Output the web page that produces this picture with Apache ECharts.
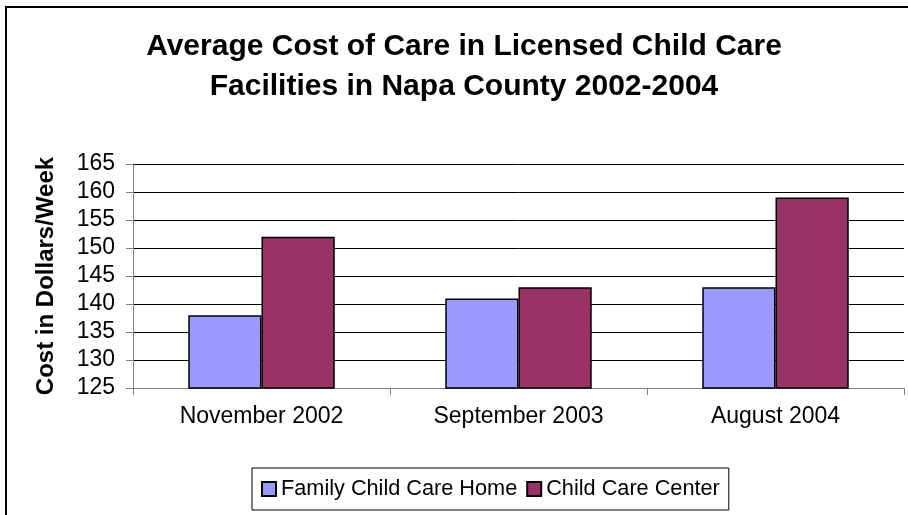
<!DOCTYPE html>
<html>
<head>
<meta charset="utf-8">
<script src="https://cdn.jsdelivr.net/npm/echarts@6/dist/echarts.min.js"></script>
<style>
html,body{margin:0;padding:0;background:#fff;}
#chart{width:908px;height:515px;}
</style>
</head>
<body>
<div id="chart"></div>
<script>
const categories = ['November 2002', 'September 2003', 'August 2004'];
const familyChildCareHome = [138, 141, 143];
const childCareCenter = [152, 143, 159];
const seriesNames = ['Family Child Care Home', 'Child Care Center'];
const titleText = 'Average Cost of Care in Licensed Child Care\nFacilities in Napa County 2002-2004';
const yAxisTitle = 'Cost in Dollars/Week';

const FONT = 'Liberation Sans, Arial, sans-serif';
const chart = echarts.init(document.getElementById('chart'), null, {renderer: 'canvas'});
chart.setOption({
  backgroundColor: '#ffffff',
  animation: false,
  graphic: [{
    type: 'rect',
    shape: {x: 6, y: 7, width: 1200, height: 1200},
    style: {fill: 'none', stroke: '#000', lineWidth: 2},
    z: 100, silent: true
  }],
  title: {
    text: titleText,
    left: 464, top: 27, padding: 0,
    textAlign: 'center',
    textStyle: {fontFamily: FONT, fontSize: 30, fontWeight: 'bold', color: '#000', lineHeight: 40}
  },
  legend: {
    data: seriesNames,
    left: 252, top: 468,
    orient: 'horizontal',
    padding: [10, 9, 10, 9],
    borderColor: '#000', borderWidth: 1,
    itemWidth: 14, itemHeight: 14, itemGap: 9,
    icon: 'rect',
    textStyle: {fontFamily: FONT, fontSize: 21.7, color: '#000', lineHeight: 22}
  },
  grid: {left: 133, right: 4, top: 164, bottom: 127, containLabel: false},
  xAxis: {
    type: 'category',
    data: categories,
    axisLine: {lineStyle: {color: '#808080', width: 1}},
    axisTick: {show: true, length: 7, lineStyle: {color: '#808080'}},
    axisLabel: {fontFamily: FONT, fontSize: 23, color: '#000', margin: 17},
    splitLine: {show: false}
  },
  yAxis: {
    type: 'value',
    min: 125, max: 165, interval: 5,
    name: yAxisTitle,
    nameLocation: 'middle',
    nameRotate: 90,
    nameGap: 75,
    nameTextStyle: {fontFamily: FONT, fontSize: 24, fontWeight: 'bold', color: '#000'},
    axisLine: {show: true, lineStyle: {color: '#808080', width: 1}},
    axisTick: {show: true, length: 7, inside: false, lineStyle: {color: '#808080'}},
    axisLabel: {fontFamily: FONT, fontSize: 23, color: '#000', margin: 18},
    splitLine: {show: true, lineStyle: {color: '#000', width: 1}}
  },
  series: [{
    name: seriesNames[0], type: 'bar', data: familyChildCareHome,
    barGap: '0%', barCategoryGap: '43%',
    itemStyle: {color: '#9999FF', borderColor: '#000', borderWidth: 1.5}
  }, {
    name: seriesNames[1], type: 'bar', data: childCareCenter,
    barGap: '0%', barCategoryGap: '43%',
    itemStyle: {color: '#993366', borderColor: '#000', borderWidth: 1.5}
  }]
});
</script>
</body>
</html>
